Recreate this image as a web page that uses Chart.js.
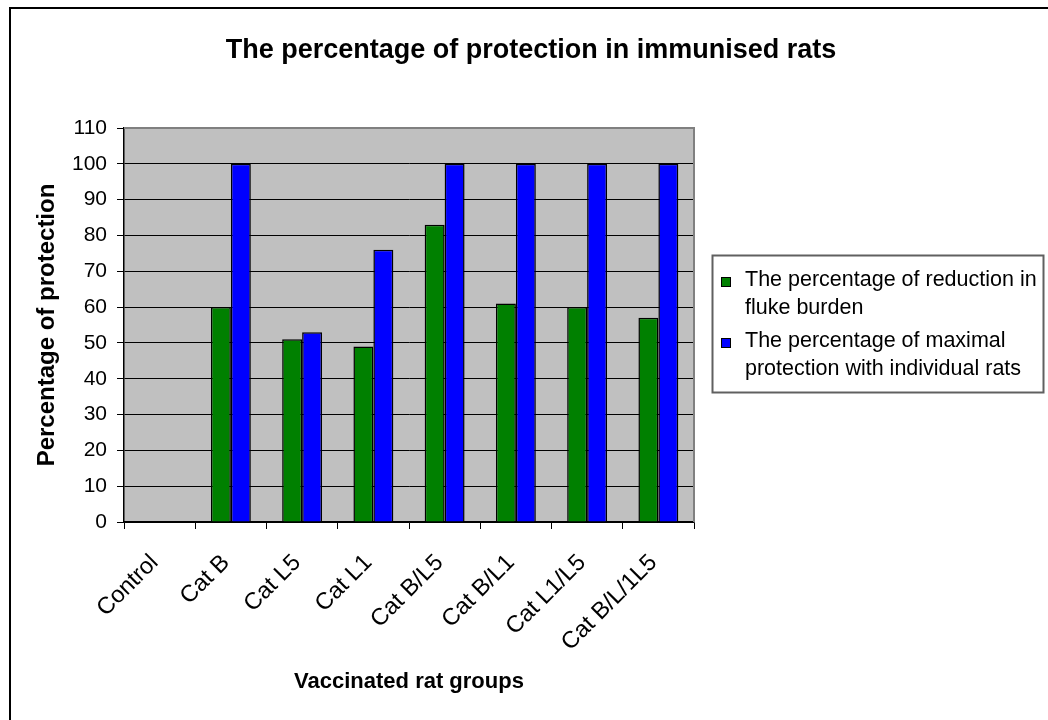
<!DOCTYPE html>
<html>
<head>
<meta charset="utf-8">
<title>The percentage of protection in immunised rats</title>
<script src="https://cdn.jsdelivr.net/npm/chart.js@4/dist/chart.umd.min.js"></script>
<style>
  html, body { margin: 0; padding: 0; background: #ffffff; }
  #wrap { position: relative; width: 1048px; height: 720px; }
</style>
</head>
<body>
<div id="wrap"><canvas id="chart" width="1048" height="720"></canvas></div>
<script>
// Vaccinated rat groups
const groups = ['Control', 'Cat B', 'Cat L5', 'Cat L1', 'Cat B/L5', 'Cat B/L1', 'Cat L1/L5', 'Cat B/L/1L5'];

// Percentage of reduction in fluke burden
const reductionValues = [0, 60, 51, 49, 83, 61, 60, 57];

// Percentage of maximal protection with individual rats
const maximalValues = [0, 100, 53, 76, 100, 100, 100, 100];

// Y axis tick range
const yTicks = [0, 10, 20, 30, 40, 50, 60, 70, 80, 90, 100, 110];

const seriesNames = [
  'The percentage of reduction in fluke burden',
  'The percentage of maximal protection with individual rats'
];
// Legend text broken onto two lines per entry
const legendLines = [
  ['The percentage of reduction in', 'fluke burden'],
  ['The percentage of maximal', 'protection with individual rats']
];

const chartTitle = 'The percentage of protection in immunised rats';
const xTitle = 'Vaccinated rat groups';
const yTitle = 'Percentage of protection';

const FONT = "'Liberation Sans', Arial, Helvetica, sans-serif";

// Frame, grey plot background, plot border, title and boxed legend
const decor = {
  id: 'decor',
  beforeDraw(chart) {
    const { ctx, chartArea: a } = chart;
    ctx.save();
    ctx.fillStyle = '#ffffff';
    ctx.fillRect(0, 0, chart.width, chart.height);
    // outer frame
    ctx.strokeStyle = '#000000';
    ctx.lineWidth = 2;
    ctx.beginPath();
    ctx.moveTo(10, chart.height + 2);
    ctx.lineTo(10, 8);
    ctx.lineTo(chart.width + 2, 8);
    ctx.stroke();
    // plot background
    ctx.fillStyle = '#c0c0c0';
    ctx.fillRect(a.left, a.top, a.right - a.left, a.bottom - a.top);
    ctx.restore();
  },
  afterDraw(chart) {
    const { ctx, chartArea: a } = chart;
    ctx.save();
    // plot border (top and right)
    ctx.strokeStyle = '#808080';
    ctx.lineWidth = 2;
    ctx.beginPath();
    ctx.moveTo(a.left, a.top);
    ctx.lineTo(a.right, a.top);
    ctx.lineTo(a.right, a.bottom);
    ctx.stroke();

    // title
    ctx.fillStyle = '#000000';
    ctx.font = 'bold 27px ' + FONT;
    ctx.textAlign = 'center';
    ctx.textBaseline = 'alphabetic';
    ctx.fillText(chartTitle, 531, 58);

    // legend
    const bx = 712.5, by = 255.5, bw = 331, bh = 137;
    ctx.strokeStyle = '#606060';
    ctx.lineWidth = 2;
    ctx.strokeRect(bx, by, bw, bh);
    ctx.font = '21.5px ' + FONT;
    ctx.textAlign = 'left';
    const firstBase = [286, 347];
    chart.data.datasets.forEach((ds, i) => {
      const base = firstBase[i];
      ctx.fillStyle = ds.backgroundColor;
      ctx.fillRect(721, base - 9, 10, 10);
      ctx.strokeStyle = '#000000';
      ctx.lineWidth = 1;
      ctx.strokeRect(721.5, base - 8.5, 9, 9);
      ctx.fillStyle = '#000000';
      legendLines[i].forEach((line, j) => {
        ctx.fillText(line, 745, base + j * 27.5);
      });
    });
    ctx.restore();
  }
};

new Chart(document.getElementById('chart'), {
  type: 'bar',
  data: {
    labels: groups,
    datasets: [
      {
        label: seriesNames[0],
        data: reductionValues,
        backgroundColor: '#008000',
        borderColor: '#000000',
        borderWidth: 1.5,
        borderSkipped: 'bottom'
      },
      {
        label: seriesNames[1],
        data: maximalValues,
        backgroundColor: '#0000ff',
        borderColor: '#000000',
        borderWidth: 1.5,
        borderSkipped: 'bottom'
      }
    ]
  },
  options: {
    responsive: false,
    animation: false,
    devicePixelRatio: 1,
    layout: { padding: { top: 128, right: 354, bottom: 0, left: 0 } },
    datasets: { bar: { categoryPercentage: 0.56, barPercentage: 1.0 } },
    plugins: {
      legend: { display: false },
      title: { display: false },
      tooltip: { enabled: false }
    },
    scales: {
      x: {
        offset: true,
        afterFit(scale) { scale.height = 198; },
        grid: {
          offset: true,
          drawOnChartArea: false,
          drawTicks: true,
          tickLength: 7,
          color: '#000000',
          lineWidth: 1
        },
        border: { display: true, color: '#000000', width: 1.5 },
        ticks: {
          color: '#000000',
          font: { family: FONT, size: 23.5 },
          maxRotation: 45,
          minRotation: 45,
          autoSkip: false,
          padding: 20,
          labelOffset: -5
        },
        title: {
          display: true,
          text: xTitle,
          color: '#000000',
          font: { family: FONT, size: 22, weight: 'bold' },
          padding: { top: 0, bottom: 25 }
        }
      },
      y: {
        min: yTicks[0],
        max: yTicks[yTicks.length - 1],
        afterFit(scale) { scale.width = 124; },
        afterBuildTicks(scale) { scale.ticks = yTicks.map(v => ({ value: v })); },
        grid: {
          color: ctx => (ctx.tick && ctx.tick.value === 110 ? '#808080' : '#000000'),
          lineWidth: 1,
          drawTicks: true,
          tickLength: 7,
          tickColor: '#000000'
        },
        border: { display: true, color: '#000000', width: 1.5 },
        ticks: {
          color: '#000000',
          font: { family: FONT, size: 21 },
          padding: 10
        },
        title: {
          display: true,
          text: yTitle,
          color: '#000000',
          font: { family: FONT, size: 24, weight: 'bold' },
          padding: { top: 33, bottom: 0 }
        }
      }
    }
  },
  plugins: [decor]
});
</script>
</body>
</html>
